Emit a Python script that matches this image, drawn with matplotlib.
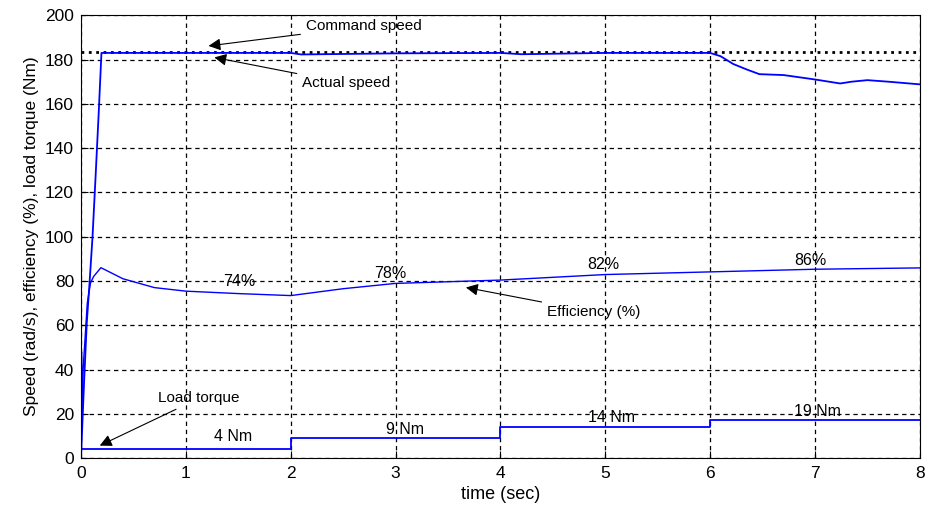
import matplotlib.pyplot as plt

plt.rcParams['font.family'] = ['Liberation Sans', 'DejaVu Sans']

# speed (rad/s)
t_speed = [0, 0.01, 0.03, 0.055, 0.08, 0.11, 0.14, 0.17, 0.195, 0.3, 1.0, 2.0, 2.1, 3.0, 4.0, 4.2, 5.0, 6.0,
           6.1, 6.22, 6.35, 6.47, 6.7, 7.0, 7.24, 7.35, 7.5, 7.7, 8.0]
speed = [0, 12, 35, 61, 78, 100, 128, 157, 183, 183, 183, 183, 182.3, 182.8, 183, 182.4, 183, 183,
         181.5, 178, 175.5, 173.4, 173, 171, 169.2, 170, 170.7, 170, 168.8]

t_cmd = [0, 8]
cmd = [183.5, 183.5]

# efficiency (%)
t_eff = [0, 0.005, 0.01, 0.02, 0.04, 0.06, 0.09, 0.12, 0.19, 0.4, 0.7, 1.0, 1.5, 2.0,
         2.5, 3.0, 4.0, 5.0, 6.0, 7.0, 8.0]
eff = [10, 48, 22, 40, 55, 70, 79, 82, 86, 81, 77, 75.4, 74.3, 73.4,
       76.5, 78.9, 80.4, 82.9, 84.1, 85.3, 85.9]

# load torque (Nm)
t_load = [0, 2, 4, 6, 8]
load = [4, 9, 14, 17, 17]

fig = plt.figure(figsize=(9.31, 5.09), dpi=100)
ax = fig.add_axes([0.087, 0.100, 0.901, 0.870])

ax.plot(t_cmd, cmd, color='black', linestyle=':', linewidth=2)
ax.plot(t_speed, speed, color='#0000ff', linewidth=1.3)
ax.plot(t_eff, eff, color='#0000ff', linewidth=1)
ax.step(t_load, load, where='post', color='#0000ff', linewidth=1.3)

ax.set_xlim(0, 8)
ax.set_ylim(0, 200)
ax.set_xticks(range(0, 9))
ax.set_yticks(range(0, 201, 20))
ax.grid(True, color='black', linestyle=(0, (3.5, 3)), linewidth=0.9)
ax.tick_params(direction='in', labelsize=12.5, length=5)
ax.tick_params(axis='x', pad=6)
ax.tick_params(axis='y', pad=5)
ax.set_xlabel('time (sec)', fontsize=13, labelpad=3)
ax.set_ylabel('Speed (rad/s), efficiency (%), load torque (Nm)', fontsize=12.5, labelpad=4)

arrow = dict(arrowstyle='-|>', color='black', lw=0.8, mutation_scale=18)
ax.annotate('Command speed', xy=(1.19, 186), xytext=(2.145, 195), fontsize=11,
            va='center', ha='left', arrowprops=arrow)
ax.annotate('Actual speed', xy=(1.246, 181.2), xytext=(2.11, 169.3), fontsize=11,
            va='center', ha='left', arrowprops=arrow)
ax.annotate('Efficiency (%)', xy=(3.645, 77.3), xytext=(4.445, 66), fontsize=11,
            va='center', ha='left', arrowprops=arrow)
ax.annotate('Load torque', xy=(0.155, 5.1), xytext=(0.737, 27), fontsize=11,
            va='center', ha='left', arrowprops=arrow)

for x, y, s in [(1.506, 79.6, '74%'), (2.946, 83.4, '78%'), (4.98, 87.4, '82%'), (6.96, 89.4, '86%'),
                (1.452, 9.6, '4 Nm'), (3.09, 13, '9 Nm'), (5.06, 18.4, '14 Nm'), (7.02, 20.9, '19 Nm')]:
    ax.text(x, y, s, fontsize=11.5, ha='center', va='center')

fig.savefig('out.png')
